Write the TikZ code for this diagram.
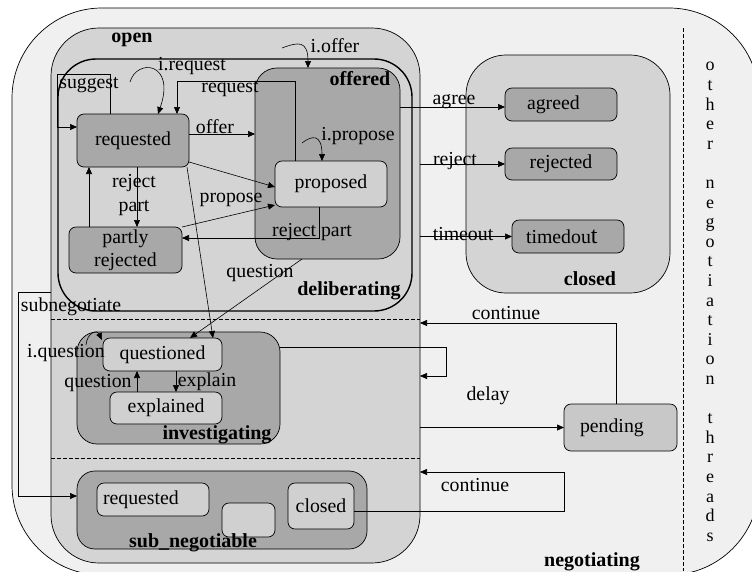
\documentclass[tikz,border=0pt]{standalone}
\usepackage{fontspec}
\setmainfont{Liberation Serif}
\usetikzlibrary{arrows.meta}
\definecolor{bgouter}{HTML}{F0F0F0}
\definecolor{midgray}{HTML}{D4D4D4}
\definecolor{darkgray}{HTML}{A8A8A8}
\definecolor{lightstate}{HTML}{D0D0D0}
\definecolor{pendgray}{HTML}{C8C8C8}

\begin{document}
\begin{tikzpicture}[x=1pt,y=-1pt,
  font=\fontsize{19.8}{22}\selectfont,
  region/.style={draw, line width=0.7pt, inner sep=0pt, outer sep=0pt},
  state/.style={draw, line width=0.7pt, rounded corners=7pt, inner sep=0pt, outer sep=0pt},
  dstate/.style={state, fill=darkgray},
  lstate/.style={state, fill=lightstate},
  arr/.style={-{Triangle[length=7pt,width=6pt]}, line width=0.6pt},
  plain/.style={line width=0.6pt},
  lbl/.style={inner sep=0pt},
  title/.style={inner sep=0pt, font=\fontsize{20}{22}\selectfont\bfseries},
  sep/.style={dashed, dash pattern=on 4pt off 2pt, line width=0.5pt},
]
\useasboundingbox (0,0) rectangle (752,571);

% outer region and thread separator
\node[region, fill=bgouter, rounded corners=90pt, minimum width=747, minimum height=567] (negotiating) at (385.5,291.5) {};
\draw[sep] (683,28) -- (683,571);
\node[lbl, align=center, font=\fontsize{18}{19.6}\selectfont] (threads) at (710,302)
  {o\\t\\h\\e\\r\\[19.6pt]n\\e\\g\\o\\t\\i\\a\\t\\i\\o\\n\\[19.6pt]t\\h\\r\\e\\a\\d\\s};

% open region with its three parts
\node[region, fill=midgray, rounded corners=48pt, minimum width=369, minimum height=535] (open) at (235.5,295.5) {};
\draw[sep] (51,319) -- (420,319);
\draw[sep] (51,458) -- (420,458);
\node[region, line width=1.4pt, rounded corners=38pt, minimum width=354, minimum height=252] (deliberating) at (235,185) {};
\node[region, fill=darkgray, rounded corners=22pt, minimum width=145, minimum height=191] (offered) at (327.5,163.5) {};
\node[region, fill=darkgray, rounded corners=20pt, minimum width=203, minimum height=112] (investigating) at (178.5,388) {};
\node[region, fill=darkgray, rounded corners=18pt, minimum width=290, minimum height=78] (subneg) at (222,510) {};

% closed region
\node[region, fill=midgray, rounded corners=40pt, minimum width=204, minimum height=238] (closed) at (568,174) {};

% states
\node[dstate, minimum width=112, minimum height=53] (requested) at (133,140.5) {requested};
\node[lstate, minimum width=112, minimum height=46] (proposed) at (331,184) {proposed};
\node[dstate, minimum width=113, minimum height=46, align=center, font=\fontsize{19.8}{23}\selectfont] (partly) at (125.5,250) {partly\\rejected};
\node[dstate, minimum width=112, minimum height=33, inner xsep=22pt, text width=68pt, align=left] (agreed) at (561,104.5) {agreed};
\node[dstate, minimum width=112, minimum height=32] (rejected) at (561,164) {rejected};
\node[dstate, minimum width=112, minimum height=33, inner xsep=14pt, text width=84pt, align=left] (timedout) at (568,236.5) {timedou{\fontsize{24}{24}\selectfont t}};
\node[lstate, minimum width=119, minimum height=33] (questioned) at (162.5,354.5) {questioned};
\node[lstate, minimum width=112, minimum height=32] (explained) at (166,408) {explained};
\node[lstate, minimum width=112, minimum height=33, inner xsep=6pt, text width=100pt, align=left] (subrequested) at (153,499.5) {requested};
\node[lstate, minimum width=53, minimum height=34] (subblank) at (248.5,520) {};
\node[lstate, minimum width=66, minimum height=46] (subclosed) at (321,506) {closed};
\node[state, fill=pendgray, minimum width=113, minimum height=47, inner xsep=16pt, text width=81pt, align=left] (pending) at (620.5,427.5) {pending};

% transitions inside deliberating
\draw[arr] ([xshift=-23]requested.north) -- (110,74) -- (57,74) -- (57,127) -- ([yshift=13.5]requested.west);
\draw[arr] (130,82) .. controls (137,58) and (176,62) .. ([xshift=25]requested.north);
\draw[plain] ([xshift=-36]proposed.north) -- (295,81) -- (177,81);
\draw[arr] (177,81) -- ([xshift=44]requested.north);
\coordinate (offerstart) at ([yshift=6.5]requested.east);
\draw[arr] (offerstart) -- (offerstart -| offered.west);
\draw[arr] ([yshift=-21.5]requested.east) -- ([yshift=-3]proposed.west);
\draw[arr] (partly.north east) -- ([yshift=-21]proposed.west);
\draw[arr] ([xshift=4]requested.south) -- ([xshift=11.5]partly.north);
\draw[arr] ([xshift=-36.5]partly.north) -- ([xshift=-44]requested.south);
\draw[arr] ([xshift=-12]proposed.south) -- (319,238) -- ([yshift=12]partly.east);
\draw[arr] (302,143) .. controls (312,135) and (322,134) .. ([xshift=-9]proposed.north);
\draw[arr] (282,48) .. controls (298,42) and (308,40) .. ([xshift=-19.5]offered.north);

% into investigating
\draw[arr] ([xshift=-25.5]offered.south) -- ([xshift=27.5]questioned.north);
\draw[arr] ([xshift=54]requested.south) -- ([xshift=50.5]questioned.north);
\draw[arr] (86,345) .. controls (87,333) and (97,329) .. (102,340);
\draw[arr] ([xshift=-29]explained.north) -- ([xshift=-25.5]questioned.south);
\draw[arr] ([xshift=13.5]questioned.south) -- ([xshift=10]explained.north);

% into closed
\coordinate (agreestart) at ([yshift=56.5]offered.east);
\draw[arr] (agreestart) -- (agreestart -| agreed.west);
\draw[arr] (rejected.west -| open.east) -- (rejected.west);
\draw[arr] (timedout.west -| open.east) -- (timedout.west);

% pending and continuations
\coordinate (contupper) at (420,323);
\draw[arr] ([xshift=-4.5]pending.north) -- (616,323) -- (contupper);
\coordinate (loopend) at (420,376);
\draw[arr] ([yshift=41]investigating.east) -- (446,347) -- (446,376) -- (loopend);
\draw[arr] (pending.west -| open.east) -- (pending.west);
\coordinate (contlower) at (420,472);
\draw[arr] ([yshift=-5]subclosed.east) -- (564,511) -- (564,472) -- (contlower);
\coordinate (subnegstart) at (51,292);
\draw[arr] (subnegstart) -- (18,292) -- (18,496) -- ([yshift=14]subneg.west);

% region titles
\node[title] (topen) at (132,40) {open};
\node[title] (toffered) at (360,79) {offered};
\node[title] (tdeliberating) at (349,291) {deliberating};
\node[title] (tclosed) at (590,279) {closed};
\node[title] (tinvestigating) at (217,435) {investigating};
\node[title] (tsubneg) at (193,543) {sub\_negotiable};
\node[title] (tnegotiating) at (592,562) {negotiating};

% transition labels
\node[lbl] (li-offer) at (335,46) {i.offer};
\node[lbl] (li-request) at (192,66) {i.request};
\node[lbl] (lsuggest) at (89,85) {suggest};
\node[lbl] (lrequest) at (230,89) {request};
\node[lbl] (loffer) at (215,127) {offer};
\node[lbl] (li-propose) at (358,136) {i.propose};
\node[lbl] (lrejectA) at (134,183) {reject};
\node[lbl] (lpartA) at (134,208) {part};
\node[lbl] (lpropose) at (231,200) {propose};
\node[lbl] (lrejectpart) at (312,232) {reject part};
\node[lbl] (lquestion) at (260,273) {question};
\node[lbl] (lagree) at (454,102) {agree};
\node[lbl] (lreject) at (455,161) {reject};
\node[lbl] (ltimeout) at (463,234) {timeout};
\node[lbl] (lsubneg) at (71,307) {subnegotiate};
\node[lbl] (lcontupper) at (506,313) {continue};
\node[lbl] (li-question) at (66,353) {i.question};
\node[lbl] (lquestionB) at (98,383) {question};
\node[lbl] (lexplain) at (207,382) {explain};
\node[lbl] (ldelay) at (488,396) {delay};
\node[lbl] (lcontlower) at (475,485) {continue};
\end{tikzpicture}
\end{document}
